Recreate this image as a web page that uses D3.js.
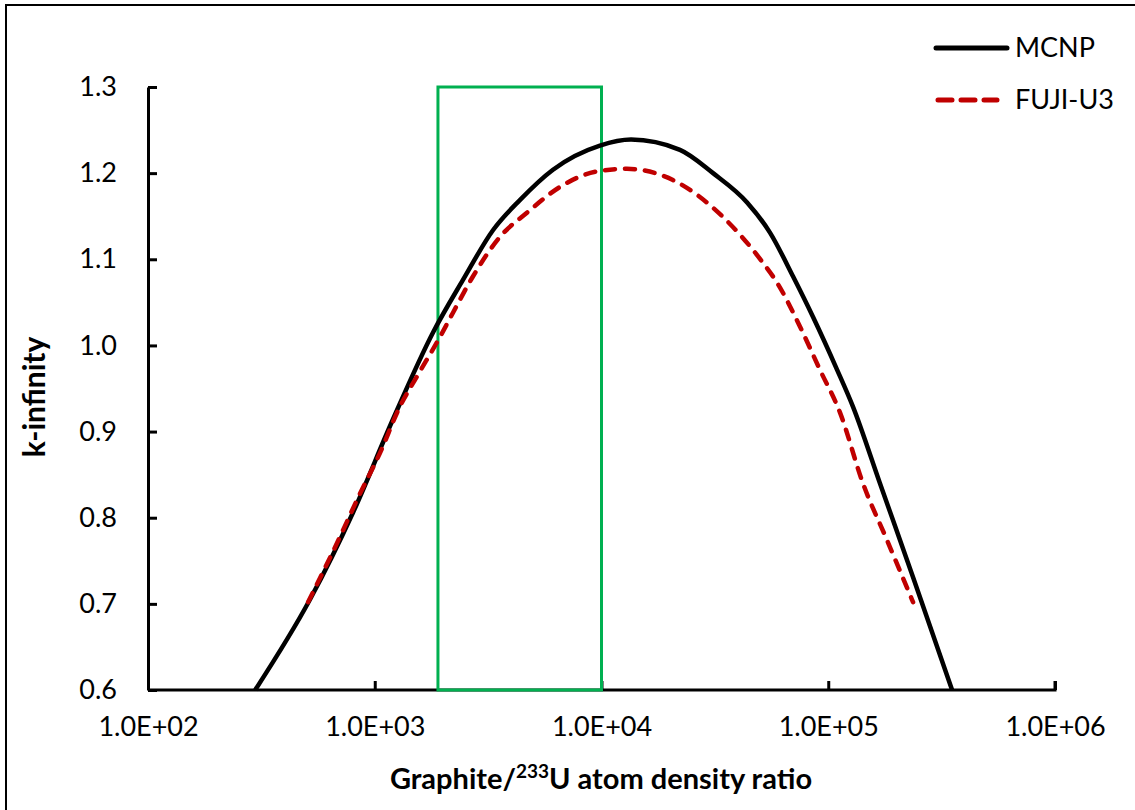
<!DOCTYPE html>
<html>
<head>
<meta charset="utf-8">
<script src="https://cdn.jsdelivr.net/npm/d3@7"></script>
<style>
  body { margin: 0; background: #fff; }
  text { font-family: Lato, "Open Sans", sans-serif; fill: #000; }
</style>
</head>
<body>
<div id="chart"></div>
<script>
// ratio (graphite / U-233) and k-infinity
var mcnpRatio = [297, 518, 802, 1202, 1807, 2449, 3327, 4375, 6109, 9840, 13500, 22182, 31046, 43853, 55335, 69984, 85704, 109300, 128500, 169000, 236600, 351600];
var mcnpK     = [0.600, 0.705, 0.806, 0.914, 1.015, 1.076, 1.134, 1.169, 1.204, 1.232, 1.239, 1.227, 1.200, 1.166, 1.131, 1.080, 1.033, 0.972, 0.929, 0.840, 0.731, 0.600];

var fujiRatio = [508, 703, 836, 1054, 1291, 1535, 1941, 2213, 2710, 3565, 4688, 6561, 9550, 12950, 20650, 34360, 51500, 59430, 75000, 91800, 112700, 142200, 181600, 236600];
var fujiK     = [0.702, 0.778, 0.821, 0.875, 0.929, 0.964, 1.010, 1.038, 1.080, 1.126, 1.154, 1.184, 1.202, 1.205, 1.192, 1.149, 1.096, 1.073, 1.022, 0.972, 0.922, 0.840, 0.774, 0.702];

var xTicks = [1e2, 1e3, 1e4, 1e5, 1e6];
var yTicks = [0.6, 0.7, 0.8, 0.9, 1.0, 1.1, 1.2, 1.3];
var boxRange = [1900, 10000];   // green highlight box
var seriesNames = ["MCNP", "FUJI-U3"];

var svgWidth = 1135;
var svgHeight = 810;
var margin = { top: 87, right: 80, bottom: 120, left: 148 };
var width = 1055 - margin.left;
var height = 690 - margin.top;

var svg = d3.select("#chart")
    .append("svg")
    .attr("width", svgWidth)
    .attr("height", svgHeight);

// outer frame (only top and left edges are inside the picture)
svg.append("rect")
    .attr("x", 6).attr("y", 5)
    .attr("width", 1140).attr("height", 820)
    .attr("fill", "none")
    .attr("stroke", "#000")
    .attr("stroke-width", 2);

var chart = svg.append("g")
    .attr("transform", "translate(" + margin.left + "," + margin.top + ")");

var x = d3.scaleLog().domain([1e2, 1e6]).range([0, width]);
var y = d3.scaleLinear().domain([0.6, 1.3]).range([height, 0]);

var bottomAxis = d3.axisBottom(x)
    .tickValues(xTicks)
    .tickSizeInner(-9)
    .tickSizeOuter(-9)
    .tickPadding(32)
    .tickFormat(function(d) { return "1.0E+" + d3.format("02d")(Math.round(Math.log10(d))); });

var leftAxis = d3.axisLeft(y)
    .tickValues(yTicks)
    .tickSizeInner(-9)
    .tickSizeOuter(0)
    .tickPadding(31)
    .tickFormat(d3.format(".1f"));

chart.append("g")
    .attr("class", "x-axis")
    .attr("transform", "translate(0," + height + ")")
    .call(bottomAxis);

chart.append("g")
    .attr("class", "y-axis")
    .call(leftAxis);

chart.selectAll(".domain, .tick line")
    .attr("stroke", "#000")
    .attr("stroke-width", 3);
chart.selectAll(".tick text")
    .style("font-family", "Lato, sans-serif")
    .style("font-size", "27px")
    .attr("fill", "#000");
chart.selectAll(".x-axis .tick text").attr("dy", "0.5em");
// draw the x domain without the default outer tick bend on the left
chart.select(".x-axis .domain").attr("d", "M0,0H" + width + "V-9");

// green box
chart.append("rect")
    .attr("x", x(boxRange[0]))
    .attr("y", y(1.3))
    .attr("width", x(boxRange[1]) - x(boxRange[0]))
    .attr("height", y(0.6) - y(1.3))
    .attr("fill", "none")
    .attr("stroke", "#00b050")
    .attr("stroke-width", 3);

var line = d3.line()
    .x(function(d) { return x(d[0]); })
    .y(function(d) { return y(d[1]); })
    .curve(d3.curveMonotoneX);

chart.append("path")
    .datum(d3.zip(mcnpRatio, mcnpK))
    .attr("d", line)
    .attr("fill", "none")
    .attr("stroke", "#000")
    .attr("stroke-width", 4.5)
    .attr("stroke-linejoin", "round");

chart.append("path")
    .datum(d3.zip(fujiRatio, fujiK))
    .attr("d", line)
    .attr("fill", "none")
    .attr("stroke", "#c00000")
    .attr("stroke-width", 4.5)
    .attr("stroke-linecap", "round")
    .attr("stroke-dasharray", "10,10");

// legend
var legend = svg.append("g").attr("transform", "translate(936,48)");
legend.append("line")
    .attr("x1", 0).attr("x2", 71).attr("y1", 0).attr("y2", 0)
    .attr("stroke", "#000").attr("stroke-width", 5).attr("stroke-linecap", "round");
legend.append("line")
    .attr("x1", 2).attr("x2", 61).attr("y1", 52).attr("y2", 52)
    .attr("stroke", "#c00000").attr("stroke-width", 5).attr("stroke-linecap", "round")
    .attr("stroke-dasharray", "14,9");
legend.selectAll("text.leg")
    .data(seriesNames)
    .enter().append("text")
    .attr("class", "leg")
    .attr("x", 79)
    .attr("y", function(d, i) { return i * 52 + 9; })
    .style("font-size", "27px")
    .text(function(d) { return d; });

// axis titles
svg.append("text")
    .attr("transform", "translate(45," + 397 + ") rotate(-90)")
    .attr("text-anchor", "middle")
    .style("font-size", "30px")
    .style("font-weight", "bold")
    .text("k-infinity");

var xTitle = svg.append("text")
    .attr("x", 601)
    .attr("y", 789)
    .attr("text-anchor", "middle")
    .style("font-size", "29px")
    .style("font-weight", "bold");
xTitle.append("tspan").text("Graphite/");
xTitle.append("tspan").attr("dy", -11).style("font-size", "19px").text("233");
xTitle.append("tspan").attr("dy", 11).text("U atom density ratio");
</script>
</body>
</html>
